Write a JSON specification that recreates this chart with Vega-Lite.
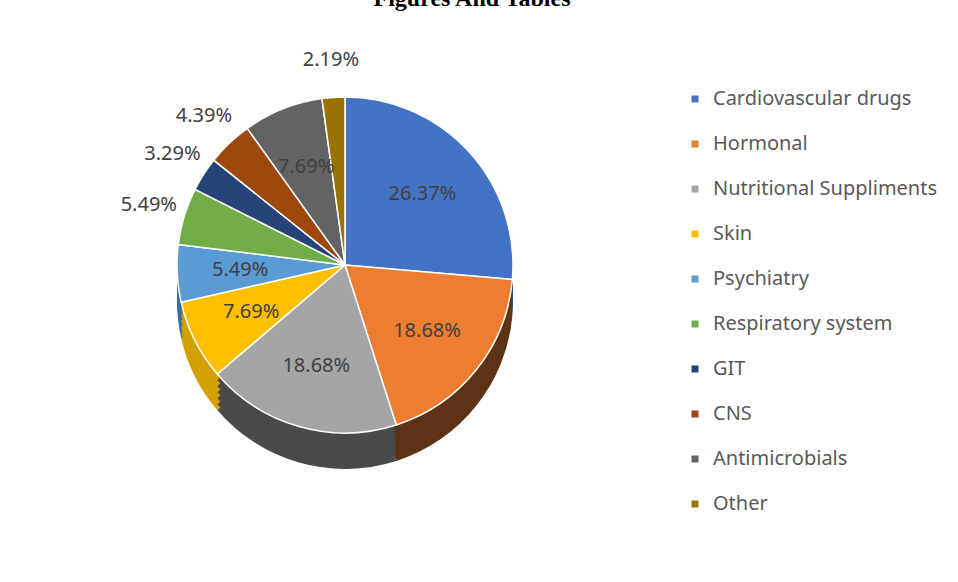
{
  "$schema": "https://vega.github.io/schema/vega-lite/v6.json",
  "width": 678,
  "height": 496,
  "padding": {"left": 6, "top": -13, "right": 0, "bottom": 30},
  "title": {
    "text": "Figures And Tables",
    "font": "Liberation Serif",
    "fontSize": 24,
    "fontWeight": "bold",
    "color": "#000000",
    "anchor": "middle",
    "frame": "bounds",
    "offset": 6
  },
  "config": {"view": {"stroke": null}},
  "data": {
    "values": [
      {"ord": 1, "cat": "Cardiovascular drugs", "pct": 26.37, "label": "26.37%", "pos": "in"},
      {"ord": 2, "cat": "Hormonal", "pct": 18.68, "label": "18.68%", "pos": "in"},
      {"ord": 3, "cat": "Nutritional Suppliments", "pct": 18.68, "label": "18.68%", "pos": "in"},
      {"ord": 4, "cat": "Skin", "pct": 7.69, "label": "7.69%", "pos": "in"},
      {"ord": 5, "cat": "Psychiatry", "pct": 5.49, "label": "5.49%", "pos": "in"},
      {"ord": 6, "cat": "Respiratory system", "pct": 5.49, "label": "5.49%", "pos": "out"},
      {"ord": 7, "cat": "GIT", "pct": 3.29, "label": "3.29%", "pos": "out"},
      {"ord": 8, "cat": "CNS", "pct": 4.39, "label": "4.39%", "pos": "out"},
      {"ord": 9, "cat": "Antimicrobials", "pct": 7.69, "label": "7.69%", "pos": "in"},
      {"ord": 10, "cat": "Other", "pct": 2.19, "label": "2.19%", "pos": "out"}
    ]
  },
  "encoding": {
    "theta": {"field": "pct", "type": "quantitative", "stack": true},
    "order": {"field": "ord", "type": "quantitative"}
  },
  "resolve": {"scale": {"color": "independent"}},
  "layer": [
    {
      "mark": {"type": "arc", "radius": 168, "yOffset": 36},
      "encoding": {
        "color": {"field": "cat", "type": "nominal", "legend": null,
          "scale": {"domain": ["Cardiovascular drugs","Hormonal","Nutritional Suppliments","Skin","Psychiatry","Respiratory system","GIT","CNS","Antimicrobials","Other"],
            "range": ["#2f528f","#5e3214","#4a4a4a","#d4a000","#3a6fa0","#4e7a31","#1a2f54","#6e320a","#454545","#6b5000"]}}
      }
    },
    {
      "mark": {"type": "arc", "radius": 168, "yOffset": 30},
      "encoding": {
        "color": {"field": "cat", "type": "nominal", "legend": null,
          "scale": {"domain": ["Cardiovascular drugs","Hormonal","Nutritional Suppliments","Skin","Psychiatry","Respiratory system","GIT","CNS","Antimicrobials","Other"],
            "range": ["#2f528f","#5e3214","#4a4a4a","#d4a000","#3a6fa0","#4e7a31","#1a2f54","#6e320a","#454545","#6b5000"]}}
      }
    },
    {
      "mark": {"type": "arc", "radius": 168, "yOffset": 24},
      "encoding": {
        "color": {"field": "cat", "type": "nominal", "legend": null,
          "scale": {"domain": ["Cardiovascular drugs","Hormonal","Nutritional Suppliments","Skin","Psychiatry","Respiratory system","GIT","CNS","Antimicrobials","Other"],
            "range": ["#2f528f","#5e3214","#4a4a4a","#d4a000","#3a6fa0","#4e7a31","#1a2f54","#6e320a","#454545","#6b5000"]}}
      }
    },
    {
      "mark": {"type": "arc", "radius": 168, "yOffset": 18},
      "encoding": {
        "color": {"field": "cat", "type": "nominal", "legend": null,
          "scale": {"domain": ["Cardiovascular drugs","Hormonal","Nutritional Suppliments","Skin","Psychiatry","Respiratory system","GIT","CNS","Antimicrobials","Other"],
            "range": ["#2f528f","#5e3214","#4a4a4a","#d4a000","#3a6fa0","#4e7a31","#1a2f54","#6e320a","#454545","#6b5000"]}}
      }
    },
    {
      "mark": {"type": "arc", "radius": 168, "yOffset": 12},
      "encoding": {
        "color": {"field": "cat", "type": "nominal", "legend": null,
          "scale": {"domain": ["Cardiovascular drugs","Hormonal","Nutritional Suppliments","Skin","Psychiatry","Respiratory system","GIT","CNS","Antimicrobials","Other"],
            "range": ["#2f528f","#5e3214","#4a4a4a","#d4a000","#3a6fa0","#4e7a31","#1a2f54","#6e320a","#454545","#6b5000"]}}
      }
    },
    {
      "mark": {"type": "arc", "radius": 168, "yOffset": 6},
      "encoding": {
        "color": {"field": "cat", "type": "nominal", "legend": null,
          "scale": {"domain": ["Cardiovascular drugs","Hormonal","Nutritional Suppliments","Skin","Psychiatry","Respiratory system","GIT","CNS","Antimicrobials","Other"],
            "range": ["#2f528f","#5e3214","#4a4a4a","#d4a000","#3a6fa0","#4e7a31","#1a2f54","#6e320a","#454545","#6b5000"]}}
      }
    },
    {
      "mark": {"type": "arc", "radius": 168, "stroke": "#ffffff", "strokeWidth": 1.5},
      "encoding": {
        "color": {"field": "cat", "type": "nominal",
          "scale": {"domain": ["Cardiovascular drugs","Hormonal","Nutritional Suppliments","Skin","Psychiatry","Respiratory system","GIT","CNS","Antimicrobials","Other"],
            "range": ["#4472c4","#ed7d31","#a5a5a5","#ffc000","#5b9bd5","#70ad47","#264478","#9e480e","#636363","#997300"]},
          "legend": {
            "title": null,
            "orient": "none",
            "legendX": 679,
            "legendY": 72,
            "symbolType": "square",
            "symbolSize": 49,
            "symbolStrokeWidth": 0,
            "labelFont": "Noto Sans",
            "labelFontSize": 20,
            "labelColor": "#595959",
            "labelOffset": 8,
            "rowPadding": 25,
            "labelLimit": 300
          }
        }
      }
    },
    {
      "mark": {"type": "text", "radius": 105, "font": "Noto Sans", "fontSize": 20, "color": "#404040"},
      "encoding": {"text": {"condition": {"test": "datum.pos == 'in'", "field": "label"}, "value": ""}}
    },
    {
      "mark": {"type": "text", "radius": 205, "font": "Noto Sans", "fontSize": 20, "color": "#404040"},
      "encoding": {"text": {"condition": {"test": "datum.pos == 'out'", "field": "label"}, "value": ""}}
    }
  ]
}
